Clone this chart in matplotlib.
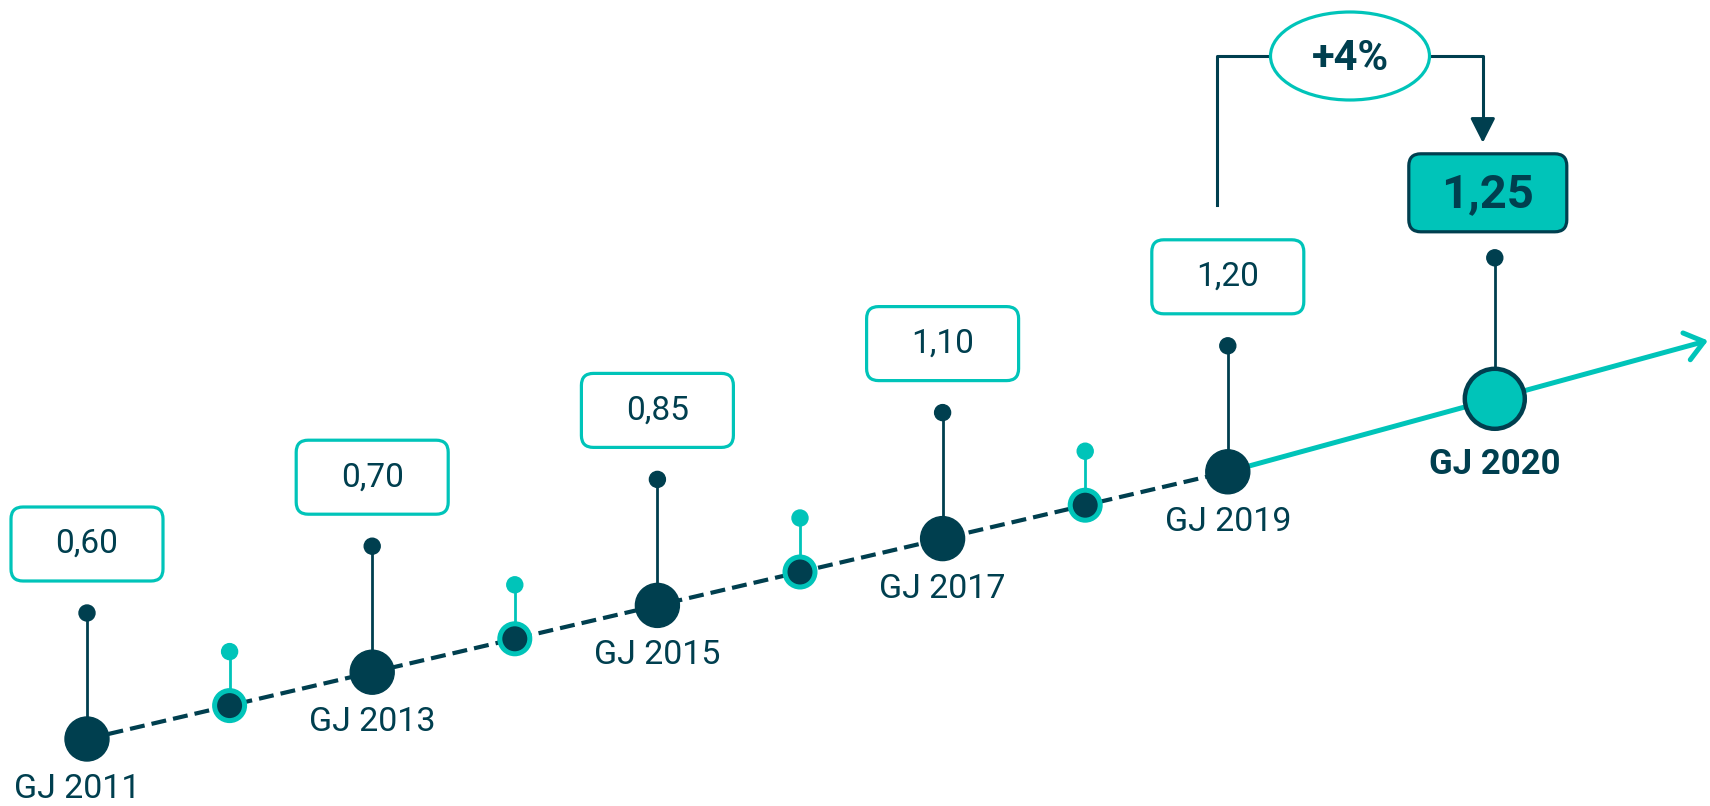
import matplotlib
matplotlib.use("Agg")
import matplotlib.pyplot as plt
from matplotlib.patches import Circle, Ellipse, FancyBboxPatch

DARK = "#003f4f"
TEAL = "#00c4b9"

# fiscal years on the dashed time line, labelled years carry the dividend box
years = [2011, 2012, 2013, 2014, 2015, 2016, 2017, 2018, 2019]
labelled_years = [2011, 2013, 2015, 2017, 2019]
dividends = [0.60, 0.70, 0.85, 1.10, 1.20]
forecast_year = 2020
forecast_dividend = 1.25
growth_label = "+4%"

plt.rcParams['font.family'] = ['Roboto', 'DejaVu Sans']

fig = plt.figure(figsize=(17.1, 8.06), dpi=100)
ax = fig.add_axes([0, 0, 1, 1])
ax.set_xlim(0, 1710)
ax.set_ylim(806, 0)
ax.axis('off')

# layout of the rising time line, in pixels
x0, y0, step, rise = 87, 739, 142.6, 33.4


def pos(year):
    i = year - years[0]
    return x0 + step * i, y0 - rise * i


def fmt(v):
    return f"{v:.2f}".replace('.', ',')


xs = [pos(y)[0] for y in years]
ys = [pos(y)[1] for y in years]
last_x, last_y = xs[-1], ys[-1]
# the forecast year sits further out on a steeper segment
fx, fy = last_x + 267, last_y - 73

ax.plot(xs, ys, color=DARK, lw=3, ls=(0, (3.6, 1.7)), zorder=1, solid_capstyle='butt')

slope = (fy - last_y) / (fx - last_x)
end_x = 1708
end_y = last_y + slope * (end_x - last_x)
ax.annotate('', xy=(end_x, end_y), xytext=(last_x, last_y),
            arrowprops=dict(arrowstyle='->,head_length=0.65,head_width=0.5', color=TEAL,
                            lw=3.6, shrinkA=0, shrinkB=0, mutation_scale=20), zorder=1)

# in-between years: small teal ringed dots with a short teal stem
for y in years:
    if y in labelled_years:
        continue
    px, py = pos(y)
    ax.plot([px, px], [py, py - 54], color=TEAL, lw=2, zorder=2)
    ax.add_patch(Circle((px, py - 54), 8, color=TEAL, zorder=3))
    ax.add_patch(Circle((px, py), 15, facecolor=DARK, edgecolor=TEAL, lw=3.6, zorder=3))

# labelled years: big dark dot, stem, value box and year label
for y, v in zip(labelled_years, dividends):
    px, py = pos(y)
    ax.plot([px, px], [py, py - 126], color=DARK, lw=2, zorder=2)
    ax.add_patch(Circle((px, py - 126), 8, color=DARK, zorder=3))
    ax.add_patch(Circle((px, py), 22, color=DARK, zorder=3))
    w, h = 152, 74
    ax.add_patch(FancyBboxPatch((px - w / 2, py - 195 - h / 2), w, h,
                                boxstyle="round,pad=0,rounding_size=12",
                                facecolor='white', edgecolor=TEAL, lw=2.3, zorder=3))
    ax.text(px, py - 195, fmt(v), ha='center', va='center', fontsize=24,
            color=DARK, zorder=4)
    lx_shift = -10 if y == years[0] else 0
    ax.text(px + lx_shift, py + 50, f"GJ {y}", ha='center', va='center', fontsize=24.5,
            color=DARK, zorder=4)

# forecast year
ax.plot([fx, fx], [fy, fy - 141], color=DARK, lw=2, zorder=2)
ax.add_patch(Circle((fx, fy - 141), 8, color=DARK, zorder=3))
ax.add_patch(Circle((fx, fy), 30, facecolor=TEAL, edgecolor=DARK, lw=3.2, zorder=3))
w, h = 158, 78
bx = fx - 7
ax.add_patch(FancyBboxPatch((bx - w / 2, fy - 206 - h / 2), w, h,
                            boxstyle="round,pad=0,rounding_size=12",
                            facecolor=TEAL, edgecolor=DARK, lw=2.3, zorder=3))
ax.text(bx, fy - 205, fmt(forecast_dividend), ha='center', va='center', fontsize=34,
        fontweight='bold', color=DARK, zorder=4)
ax.text(fx, fy + 66, f"GJ {forecast_year}", ha='center', va='center', fontsize=25,
        fontweight='bold', color=DARK, zorder=4)

# growth bracket
by = 56
ex, ew, eh = 1350, 159, 88
lx, rx = last_x - 11, fx - 12
tip = fy - 256
ax.plot([lx, lx, ex - ew / 2], [last_y - 267, by, by], color=DARK, lw=2.2, zorder=2)
ax.plot([ex + ew / 2, rx, rx], [by, by, tip - 12], color=DARK, lw=2.2, zorder=2)
ax.annotate('', xy=(rx, tip), xytext=(rx, tip - 22),
            arrowprops=dict(arrowstyle='-|>,head_length=0.75,head_width=0.38', color=DARK,
                            lw=2.2, shrinkA=0, shrinkB=0, mutation_scale=20), zorder=2)
ax.add_patch(Ellipse((ex, by), ew, eh, facecolor='white', edgecolor=TEAL, lw=2.3, zorder=3))
ax.text(ex, by + 2, growth_label, ha='center', va='center', fontsize=30,
        fontweight='bold', color=DARK, zorder=4)

fig.savefig('out.png', dpi=100)
